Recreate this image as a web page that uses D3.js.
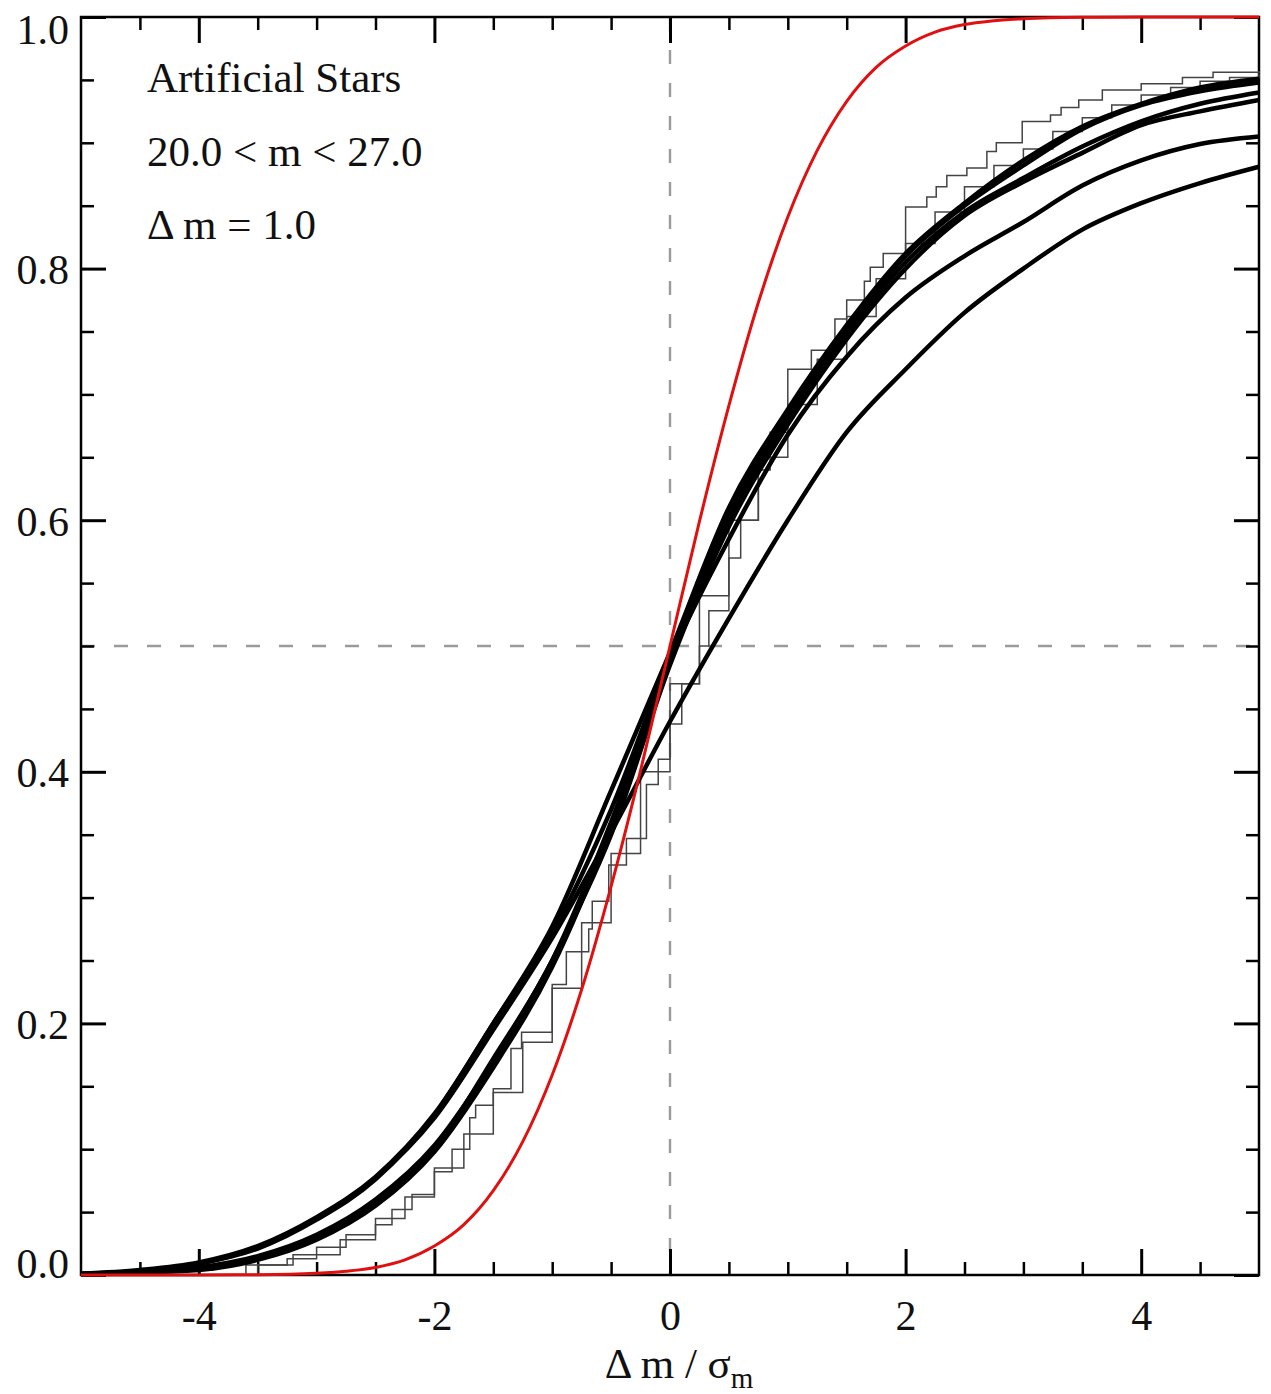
<!DOCTYPE html>
<html>
<head>
<meta charset="utf-8">
<script src="https://cdn.jsdelivr.net/npm/d3@7"></script>
<style>
body { margin:0; background:#fff; }
svg text { font-family:"Liberation Serif","Times New Roman",serif; fill:#111; }
</style>
</head>
<body>
<div id="chart"></div>
<script>

// grid of Δm/σ used by the smooth (many-star) curves
var gridX=[-5,-4.5,-4,-3.5,-3,-2.5,-2,-1.5,-1,-0.5,0,0.5,1,1.5,2,2.5,3,3.5,4,4.5,5];

// thick cumulative curves
var curveA=[0.001,0.003,0.009,0.022,0.045,0.077,0.125,0.195,0.268,0.352,0.44,0.522,0.6,0.67,0.72,0.765,0.8,0.831,0.852,0.868,0.881];
var curveB=[0.001,0.004,0.010,0.023,0.046,0.078,0.128,0.2,0.272,0.37,0.49,0.585,0.668,0.73,0.777,0.81,0.837,0.866,0.886,0.899,0.905];
var curveC1=[0.001,0.003,0.009,0.021,0.044,0.076,0.127,0.2,0.277,0.385,0.495,0.61,0.688,0.755,0.812,0.852,0.886,0.913,0.931,0.944,0.951];
var curveC2=[0.0005,0.002,0.005,0.014,0.03,0.058,0.1,0.172,0.25,0.36,0.49,0.605,0.684,0.752,0.81,0.85,0.882,0.911,0.93,0.941,0.948];
var curveC3=[0.0005,0.002,0.004,0.012,0.028,0.055,0.098,0.165,0.245,0.355,0.487,0.6,0.68,0.748,0.805,0.845,0.872,0.897,0.917,0.931,0.94];
var curveC4=[0.0005,0.002,0.006,0.015,0.032,0.06,0.103,0.17,0.25,0.35,0.485,0.595,0.676,0.744,0.8,0.842,0.869,0.892,0.914,0.925,0.934];
var thickCurves=[curveA,curveB,curveC1,curveC2,curveC3,curveC4];

// thin step curve, few stars (big steps)
var stepAX=[-5,-3.6,-3.2,-2.8,-2.5,-2.36,-2.19,-2.0,-1.85,-1.7,-1.65,-1.5,-1.35,-1.26,-1.0,-0.88,-0.69,-0.66,-0.52,-0.37,-0.2,-0.1,0.0,0.1,0.25,0.33,0.5,0.6,0.75,0.85,1.0,1.2,1.4,1.5,1.65,1.7,1.81,2.0,2.18,2.26,2.35,2.52,2.69,2.77,2.99,3.23,3.32,3.47,3.67,4.0,4.35,4.61,5];
var stepAY=[0,0.008,0.016,0.028,0.04,0.052,0.064,0.082,0.1,0.125,0.135,0.148,0.18,0.193,0.231,0.257,0.275,0.297,0.326,0.347,0.39,0.41,0.438,0.47,0.5,0.528,0.57,0.6,0.64,0.67,0.72,0.735,0.76,0.775,0.79,0.801,0.812,0.849,0.857,0.865,0.874,0.88,0.893,0.9,0.917,0.922,0.928,0.934,0.942,0.947,0.952,0.956,0.957];

// thin step curve, more stars (small steps)
var stepBX=[-5,-3.5,-3.25,-3,-2.75,-2.5,-2.25,-2,-1.75,-1.5,-1.25,-1,-0.75,-0.5,-0.25,0,0.25,0.5,0.75,1,1.25,1.5,1.75,2,2.25,2.5,2.75,3,3.25,3.5,3.75,4,4.25,4.5,4.75,5];
var stepBY=[0,0.008,0.013,0.022,0.032,0.045,0.062,0.085,0.112,0.145,0.185,0.228,0.28,0.335,0.4,0.47,0.54,0.6,0.65,0.692,0.728,0.762,0.792,0.82,0.845,0.865,0.882,0.895,0.909,0.92,0.93,0.938,0.944,0.949,0.952,0.955];

// gaussian reference curve
var redX=[-5,-4,-3.5,-3,-2.75,-2.5,-2.25,-2,-1.75,-1.5,-1.25,-1,-0.75,-0.5,-0.25,0,0.25,0.5,0.75,1,1.25,1.5,1.75,2,2.25,2.5,2.75,3,3.5,4,5];
var redY=[0,0.00003,0.0002,0.0013,0.003,0.006,0.012,0.023,0.04,0.067,0.106,0.159,0.227,0.309,0.401,0.5,0.599,0.691,0.773,0.841,0.894,0.933,0.96,0.977,0.988,0.994,0.997,0.9987,0.9998,1,1];

var xMajor=[-4,-2,0,2,4];
var xMinor=[-4.5,-3.5,-3,-2.5,-1.5,-1,-0.5,0.5,1,1.5,2.5,3,3.5,4.5];
var yMajor=[0,0.2,0.4,0.6,0.8,1.0];
var yMinor=[0.05,0.1,0.15,0.25,0.3,0.35,0.45,0.5,0.55,0.65,0.7,0.75,0.85,0.9,0.95];

var notes=["Artificial Stars","20.0 < m < 27.0","\u0394 m = 1.0"];

function draw() {
    var W=1271, H=1394;
    var L=81, R=1259, T=17, B=1275;

    var svg=d3.select("#chart").append("svg")
        .attr("width",W)
        .attr("height",H);
    svg.append("rect").attr("width",W).attr("height",H).attr("fill","#fff");

    var x=d3.scaleLinear().domain([-5,5]).range([L,R]);
    var y=d3.scaleLinear().domain([0,1]).range([B,T]);

    // dashed guides
    svg.append("line")
        .attr("x1",x(0)).attr("x2",x(0)).attr("y1",T).attr("y2",B)
        .attr("stroke","#9a9a9a").attr("stroke-width",2.4).attr("stroke-dasharray","14,19");
    svg.append("line")
        .attr("x1",L).attr("x2",R).attr("y1",y(0.5)).attr("y2",y(0.5))
        .attr("stroke","#9a9a9a").attr("stroke-width",2.4).attr("stroke-dasharray","14,19");

    // ticks, all pointing inward
    var mk=function(axis,tr,vals,size,labels) {
        var g=svg.append("g")
            .attr("transform",tr)
            .call(axis.tickValues(vals).tickSize(-size).tickPadding(labels ? 14 : 0)
                .tickFormat(labels ? function(d) { return labels(d); } : function() { return ""; }));
        g.select(".domain").remove();
        g.selectAll(".tick line").attr("stroke","#000").attr("stroke-width",size>20 ? 3 : 2.5);
        g.selectAll(".tick text").style("font-size","42px").attr("fill","#111");
        return g;
        }
    mk(d3.axisBottom(x),"translate(0,"+B+")",xMajor,26,function(d) { return String(d); })
        .selectAll(".tick text").attr("dy","0.71em").attr("y",25);
    mk(d3.axisBottom(x),"translate(0,"+B+")",xMinor,13);
    mk(d3.axisTop(x),"translate(0,"+T+")",xMajor,26);
    mk(d3.axisTop(x),"translate(0,"+T+")",xMinor,13);
    var yl=mk(d3.axisLeft(y),"translate("+L+",0)",yMajor,25,function(d) { return d.toFixed(1); });
    yl.selectAll(".tick text")
        .attr("x",-12)
        .attr("dy",function(d) {
            if (d==1) { return "0.62em"; }
            else if (d==0) { return "0.05em"; }
            else { return "0.36em"; } });
    mk(d3.axisLeft(y),"translate("+L+",0)",yMinor,13);
    mk(d3.axisRight(y),"translate("+R+",0)",yMajor,25);
    mk(d3.axisRight(y),"translate("+R+",0)",yMinor,13);

    // frame
    svg.append("rect")
        .attr("x",L).attr("y",T).attr("width",R-L).attr("height",B-T)
        .attr("fill","none").attr("stroke","#000").attr("stroke-width",2.5);

    var smooth=d3.line()
        .x(function(d) { return x(d[0]); })
        .y(function(d) { return y(d[1]); })
        .curve(d3.curveMonotoneX);
    var stepped=d3.line()
        .x(function(d) { return x(d[0]); })
        .y(function(d) { return y(d[1]); })
        .curve(d3.curveStepAfter);

    svg.selectAll("path.step")
        .data([d3.zip(stepAX,stepAY),d3.zip(stepBX,stepBY)])
        .enter()
        .append("path")
        .attr("class","step")
        .attr("d",stepped)
        .attr("fill","none")
        .attr("stroke","#444")
        .attr("stroke-width",1.5);

    svg.selectAll("path.thick")
        .data(thickCurves.map(function(c) { return d3.zip(gridX,c); }))
        .enter()
        .append("path")
        .attr("class","thick")
        .attr("d",smooth)
        .attr("fill","none")
        .attr("stroke","#000")
        .attr("stroke-width",4.5)
        .attr("stroke-linejoin","round");

    svg.append("path")
        .datum(d3.zip(redX,redY))
        .attr("d",smooth)
        .attr("fill","none")
        .attr("stroke","#e01010")
        .attr("stroke-width",3);

    // labels in the corner
    svg.selectAll("text.note")
        .data(notes)
        .enter()
        .append("text")
        .attr("class","note")
        .attr("x",147)
        .attr("y",function(d,i) { return 92+i*73.5; })
        .style("font-size","43px")
        .text(function(d) { return d; });

    var xt=svg.append("text")
        .attr("x",x(0)+9)
        .attr("y",1378)
        .attr("text-anchor","middle")
        .style("font-size","43px");
    xt.append("tspan").text("\u0394 m / \u03c3");
    xt.append("tspan").attr("dy",10).style("font-size","29px").text("m");
    }

document.body.onload=function() {
    draw();
    }
</script>
</body>
</html>
